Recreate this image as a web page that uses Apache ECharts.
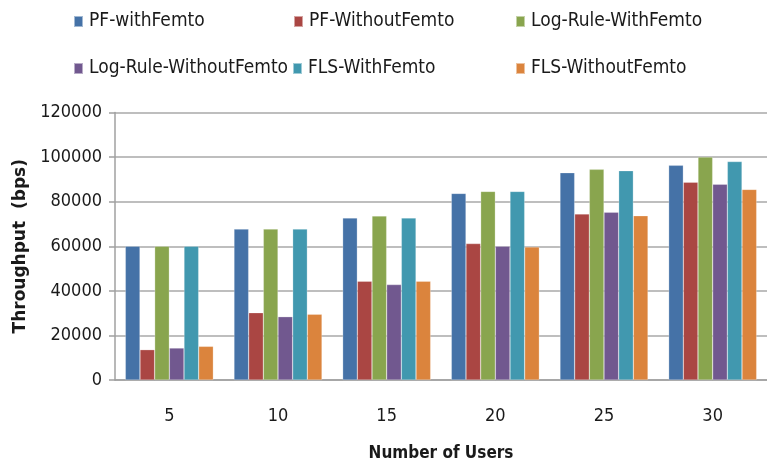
<!doctype html>
<html lang="en">

<head>
    <meta charset="UTF-8" />
    <title>Throughput vs users</title>
    <style>
        body { margin: 0; background: #fff; }
    </style>
</head>

<body>
    <div id="chart" style="width:767px;height:467px"></div>

    <script src="https://cdn.jsdelivr.net/npm/echarts@6/dist/echarts.min.js"></script>
    <script type="text/javascript">
        var users = ['5', '10', '15', '20', '25', '30'];
        var pfWith = [60000, 67700, 72700, 83700, 93000, 96300];
        var pfWithout = [13600, 30200, 44300, 61200, 74500, 88700];
        var logWith = [60000, 67700, 73600, 84600, 94500, 100000];
        var logWithout = [14350, 28400, 42800, 60000, 75300, 87800];
        var flsWith = [60000, 67700, 72700, 84600, 93900, 98000];
        var flsWithout = [15100, 29500, 44300, 59700, 73700, 85500];
        var yTicks = [0, 20000, 40000, 60000, 80000, 100000, 120000];

        var names = ['PF-withFemto', 'PF-WithoutFemto', 'Log-Rule-WithFemto',
            'Log-Rule-WithoutFemto', 'FLS-WithFemto', 'FLS-WithoutFemto'];
        var values = [pfWith, pfWithout, logWith, logWithout, flsWith, flsWithout];
        var colors = ['#4572A7', '#AA4643', '#89A54E', '#71588F', '#4198AF', '#DB843D'];

        var font = '"DejaVu Sans Condensed", sans-serif';

        // legend laid out as 2 rows x 3 columns
        var legendPos = [[73, 12], [293, 12], [515, 12], [73, 59], [292, 59], [515, 59]];
        var legends = names.map(function (n, i) {
            return {
                data: [n],
                left: legendPos[i][0],
                top: legendPos[i][1],
                padding: 0,
                icon: 'rect',
                itemWidth: 9,
                itemHeight: 11,
                itemGap: 0,
                textStyle: { fontFamily: font, fontSize: 19, color: '#1a1a1a', padding: [0, 0, 0, 1] }
            };
        });

        var chart = echarts.init(document.getElementById('chart'));
        chart.setOption({
            color: colors,
            animation: false,
            legend: legends,
            grid: { left: 115, right: -8, top: 112.5, bottom: 84.5 },
            xAxis: {
                type: 'category',
                data: users,
                name: 'Number of Users',
                nameLocation: 'middle',
                nameGap: 65,
                nameTextStyle: { fontFamily: font, fontSize: 17, fontWeight: 'bold', color: '#1a1a1a' },
                axisLine: { lineStyle: { color: '#a0a0a0', width: 1.5 } },
                axisTick: { length: 7, lineStyle: { color: '#a0a0a0', width: 1.5 } },
                axisLabel: { margin: 27, fontFamily: font, fontSize: 18, color: '#1a1a1a' }
            },
            yAxis: {
                type: 'value',
                min: yTicks[0],
                max: yTicks[yTicks.length - 1],
                interval: yTicks[1] - yTicks[0],
                name: 'Throughput  (bps)',
                nameLocation: 'middle',
                nameGap: 86,
                nameTextStyle: { fontFamily: '"DejaVu Sans", sans-serif', fontSize: 17, fontWeight: 'bold', color: '#1a1a1a' },
                axisLine: { show: true, lineStyle: { color: '#a0a0a0', width: 1.5 } },
                axisTick: { show: true, length: 6, lineStyle: { color: '#a0a0a0', width: 1.5 } },
                splitLine: { lineStyle: { color: '#a8a8a8', width: 1.5 } },
                axisLabel: {
                    margin: 13, fontFamily: font, fontSize: 18, color: '#1a1a1a',
                    formatter: function (v) { return String(v); }
                }
            },
            series: names.map(function (n, i) {
                return {
                    name: n,
                    type: 'bar',
                    data: values[i],
                    barGap: '0%',
                    barCategoryGap: '19%',
                    itemStyle: { borderColor: 'rgba(255,255,255,0.5)', borderWidth: 0.5 }
                };
            })
        });
    </script>
</body>

</html>
